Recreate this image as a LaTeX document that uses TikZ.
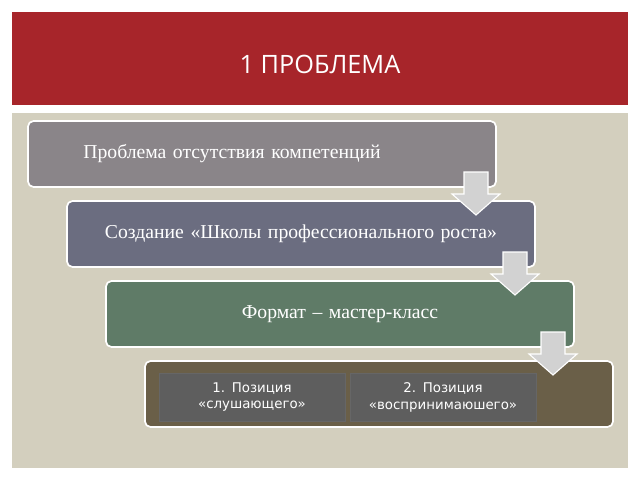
\documentclass[tikz,border=0pt]{standalone}
\usepackage{fontspec}
\setmainfont{Liberation Serif}
\newfontfamily\titlefont{Open Sans}
\newfontfamily\boxfont{DejaVu Sans}
\definecolor{bannerred}{HTML}{A7252A}
\definecolor{panelbeige}{HTML}{D3CFBE}
\definecolor{stepgray}{HTML}{8A8589}
\definecolor{stepblue}{HTML}{6B6D80}
\definecolor{stepgreen}{HTML}{5F7B67}
\definecolor{stepbrown}{HTML}{6A5F48}
\definecolor{subgray}{HTML}{5E5E5E}
\begin{document}
\begin{tikzpicture}[x=0.025cm, y=-0.025cm,
  stepbox/.style={rectangle, rounded corners=4pt, draw=white, line width=1.2pt, fill=#1, minimum width=11.7cm, minimum height=1.65cm, text=white, font=\fontsize{14}{16}\selectfont, align=center, text width=10cm},
  subbox/.style={rectangle, draw=black!60, fill=subgray, minimum width=4.65cm, minimum height=1.2cm, text=white, font=\boxfont\fontsize{9.5}{12}\selectfont, align=center, text width=4.4cm},
  downarrow/.style={fill=gray!35, draw=white, line width=0.8pt}]

\useasboundingbox (0,0) rectangle (640,480);
\fill[white] (0,0) rectangle (640,480);
\fill[bannerred] (12,12) rectangle (628,105);
\node[text=white, font=\titlefont\fontsize{18}{20}\selectfont] (title) at (320,64) {1 ПРОБЛЕМА};
\fill[panelbeige] (12,113) rectangle (628,468);

\node[stepbox=stepgray] (problem) at (262,154) {\hspace*{-1.5cm}Проблема отсутствия компетенций};
\node[stepbox=stepblue] (school) at (301,234) {Создание «Школы профессионального роста»};
\node[stepbox=stepgreen] (format) at (340,314) {Формат – мастер-класс};
\node[stepbox=stepbrown] (position) at (379,394) {};

\node[subbox] (listener) at (252,397) {1. Позиция «слушающего»};
\node[subbox] (receiver) at (443,397) {2. Позиция «воспринимаюшего»};

% arrows between steps
\foreach \ax/\ay in {476/172, 515/252, 553/332}
  \draw[downarrow] (\ax-12,\ay) -- (\ax+12,\ay) -- (\ax+12,\ay+22) -- (\ax+24,\ay+22)
    -- (\ax,\ay+43) -- (\ax-24,\ay+22) -- (\ax-12,\ay+22) -- cycle;

\end{tikzpicture}
\end{document}
